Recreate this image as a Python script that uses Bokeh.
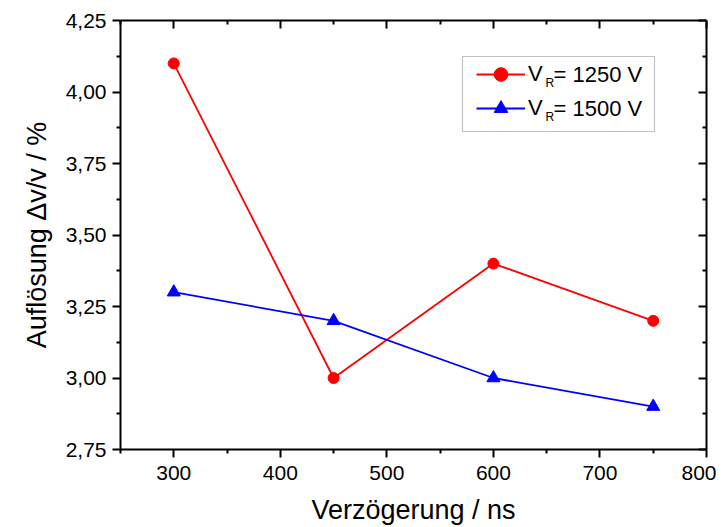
from bokeh.plotting import figure
from bokeh.models import (LinearAxis, Range1d, FixedTicker, CustomJSTickFormatter,
                          Legend, LegendItem, BoxAnnotation, Label)
from bokeh.embed import file_html
from bokeh.resources import INLINE

# ---- data ----
delay_ns = [300, 450, 600, 750]
res_1250 = [4.10, 3.00, 3.40, 3.20]
res_1500 = [3.30, 3.20, 3.00, 2.90]
x_ticks = [300, 400, 500, 600, 700, 800]
y_ticks = [2.75, 3.00, 3.25, 3.50, 3.75, 4.00, 4.25]
series_names = ["V", "V"]
legend_rest = ["= 1250 V", "= 1500 V"]
x_title = "Verzögerung / ns"
y_title = "Auflösung Δv/v / %"

FONT = "Liberation Sans"

p = figure(width=716, height=527, output_backend="svg", toolbar_location=None,
           x_range=Range1d(250, 800), y_range=Range1d(2.75, 4.25),
           min_border_left=120, min_border_right=10, min_border_top=20, min_border_bottom=77,
           x_axis_location=None, y_axis_location=None)
p.grid.visible = False
p.outline_line_color = None

blank = CustomJSTickFormatter(code="return '';")

def style_axis(ax):
    ax.axis_line_width = 2
    ax.axis_line_color = "black"
    ax.major_tick_line_width = 2
    ax.minor_tick_line_width = 2
    ax.major_tick_line_color = "black"
    ax.minor_tick_line_color = "black"
    ax.major_label_text_font = FONT
    ax.major_label_text_font_size = "21px"
    ax.major_label_text_color = "black"
    ax.axis_label_text_font = FONT
    ax.axis_label_text_font_size = "27px"
    ax.axis_label_text_font_style = "normal"
    ax.axis_label_text_color = "black"

minor_x = [250, 350, 450, 550, 650, 750]
xb = LinearAxis(ticker=FixedTicker(ticks=x_ticks, minor_ticks=minor_x), axis_label=x_title)
style_axis(xb)
xb.major_tick_out = 8; xb.major_tick_in = 0
xb.minor_tick_out = 4; xb.minor_tick_in = 0
xb.major_label_standoff = 8
xb.axis_label_standoff = 12
p.add_layout(xb, "below")

xt = LinearAxis(ticker=FixedTicker(ticks=x_ticks, minor_ticks=minor_x), formatter=blank)
style_axis(xt)
xt.major_tick_out = 0; xt.major_tick_in = 8
xt.minor_tick_out = 0; xt.minor_tick_in = 4
xt.major_label_standoff = 0
p.add_layout(xt, "above")

minor_y = [2.875, 3.125, 3.375, 3.625, 3.875, 4.125]
yfmt = CustomJSTickFormatter(code="return tick.toFixed(2).replace('.', ',');")
yl = LinearAxis(ticker=FixedTicker(ticks=y_ticks, minor_ticks=minor_y),
                axis_label=y_title, formatter=yfmt)
style_axis(yl)
yl.major_tick_out = 8; yl.major_tick_in = 0
yl.minor_tick_out = 4; yl.minor_tick_in = 0
yl.major_label_standoff = 6
yl.axis_label_standoff = 11
p.add_layout(yl, "left")

yr = LinearAxis(ticker=FixedTicker(ticks=y_ticks, minor_ticks=minor_y), formatter=blank)
style_axis(yr)
yr.major_tick_out = 0; yr.major_tick_in = 8
yr.minor_tick_out = 0; yr.minor_tick_in = 4
yr.major_label_standoff = 0
p.add_layout(yr, "right")

# ---- series ----
l1 = p.line(delay_ns, res_1250, line_color="red", line_width=1.8)
m1 = p.scatter(delay_ns, res_1250, marker="circle", size=11, fill_color="red", line_color="red")
l2 = p.line(delay_ns, res_1500, line_color="blue", line_width=1.8)
m2 = p.scatter(delay_ns, res_1500, marker="triangle", size=13, fill_color="blue", line_color="blue")

# ---- legend ----
box = BoxAnnotation(left=342, right=534, bottom=318, top=393,
                    left_units="screen", right_units="screen",
                    top_units="screen", bottom_units="screen",
                    fill_color="white", fill_alpha=1.0,
                    line_color="#333333", line_width=1.2)
p.add_layout(box)

legend = Legend(items=[LegendItem(label=series_names[0], renderers=[l1, m1]),
                       LegendItem(label=series_names[1], renderers=[l2, m2])],
                location=(356, 324), padding=0, spacing=0, margin=0,
                glyph_width=49, glyph_height=34, label_height=34, label_standoff=3,
                border_line_color=None, background_fill_alpha=0,
                label_text_font=FONT, label_text_font_size="22px", label_text_color="black")
p.add_layout(legend)

row_y = [375, 341]
for i in range(2):
    p.add_layout(Label(x=425, y=row_y[i] - 15, x_units="screen", y_units="screen",
                       text="R", text_font=FONT, text_font_size="12px", text_color="black",
                       text_baseline="bottom", text_align="left"))
    p.add_layout(Label(x=433, y=row_y[i], x_units="screen", y_units="screen",
                       text=legend_rest[i], text_font=FONT, text_font_size="22px",
                       text_color="black", text_baseline="middle", text_align="left"))

open("out.html", "w").write(file_html(p, INLINE))
